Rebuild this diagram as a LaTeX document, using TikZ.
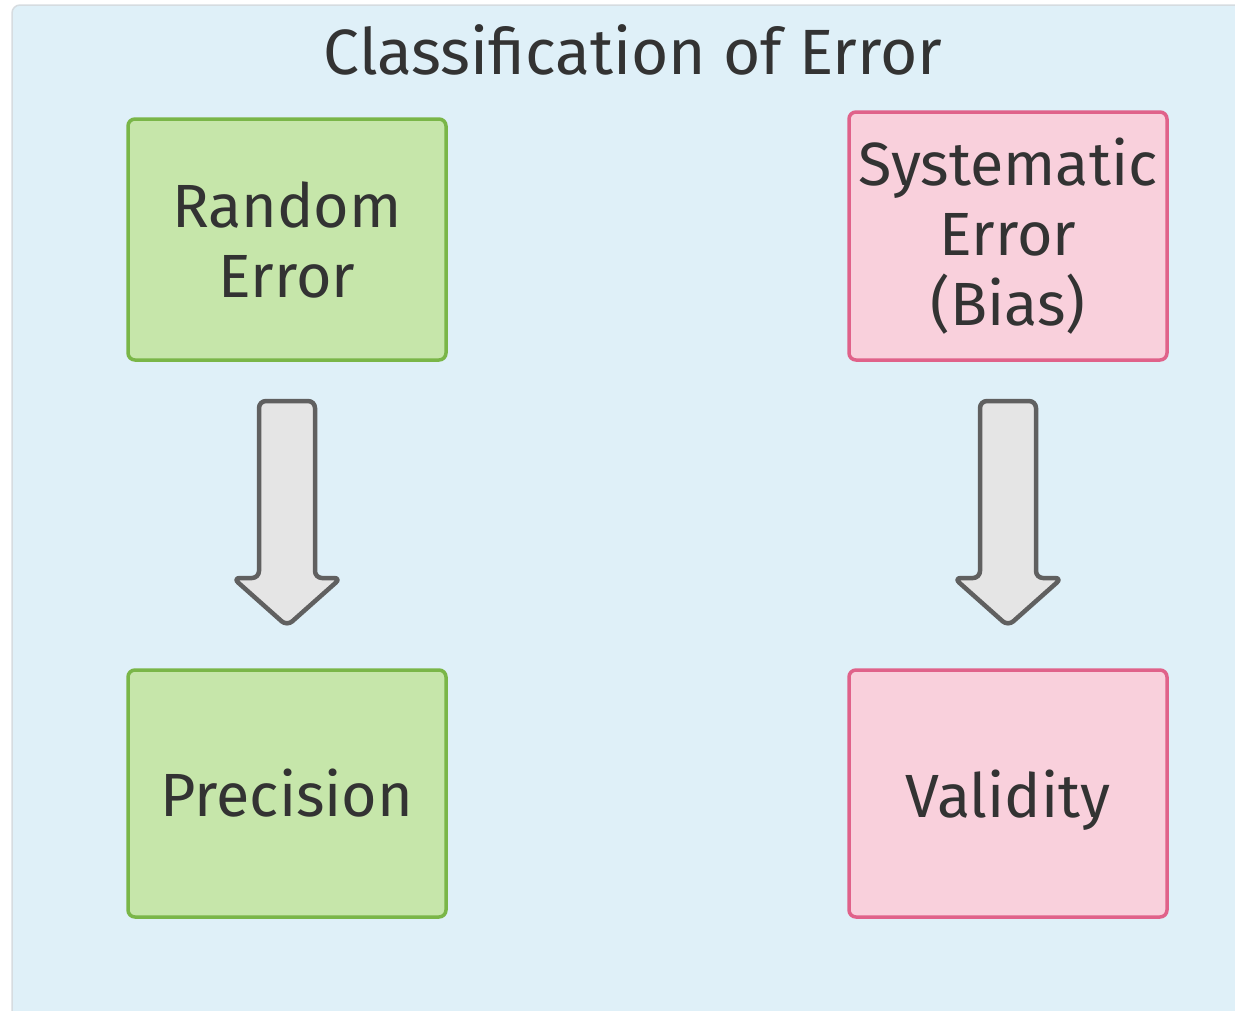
\documentclass[tikz,border=0pt]{standalone}
\usepackage{fontspec}
\setmainfont{Fira Sans}
\definecolor{bgblue}{HTML}{DFF0F8}
\definecolor{bgline}{HTML}{D6DCE0}
\definecolor{gfill}{HTML}{C6E6AA}
\definecolor{gline}{HTML}{7AB648}
\definecolor{pfill}{HTML}{F9D0DC}
\definecolor{pline}{HTML}{E0628A}
\definecolor{afill}{HTML}{E5E5E5}
\definecolor{aline}{HTML}{606060}
\definecolor{txt}{HTML}{333333}
\tikzset{
  box/.style={draw, line width=3.5pt, rounded corners=7pt, minimum width=318pt, align=center, text=txt, font=\fontsize{61}{70}\selectfont, inner sep=0pt},
  greenbox/.style={box, fill=gfill, draw=gline},
  pinkbox/.style={box, fill=pfill, draw=pline},
  bigarrow/.style={draw=aline, fill=afill, line width=4.5pt, rounded corners=7pt, line join=round},
}
\begin{document}
\begin{tikzpicture}[x=1pt,y=-1pt]
\useasboundingbox (0,0) rectangle (1235,1010);
\begin{scope}
\clip (0,0) rectangle (1235,1010);
\draw[bgline, fill=bgblue, line width=1.5pt, rounded corners=8pt] (12,5) rectangle (1250,1030);
\end{scope}
\node[text=txt, font=\fontsize{64}{70}\selectfont] (title) at (633,50) {Classification of Error};
\node[greenbox, minimum height=241pt] (rand) at (287,239.5) {Random\\Error};
\node[pinkbox, minimum height=248pt] (sys) at (1008,236) {Systematic\\Error\\(Bias)};
\node[greenbox, minimum height=247pt] (prec) at (287,793.5) {Precision};
\node[pinkbox, minimum height=247pt] (val) at (1008,793.5) {\raisebox{0pt}[\height][0pt]{Validity}};
\coordinate (a1) at (287,401);
\coordinate (a2) at (1008,401);
\foreach \c in {a1,a2}{
  \draw[bigarrow] (\c) ++(-28,0) -- ++(56,0) -- ++(0,177) -- ++(26,0) -- ++(-54,48) -- ++(-54,-48) -- ++(26,0) -- cycle;
}
\end{tikzpicture}
\end{document}
